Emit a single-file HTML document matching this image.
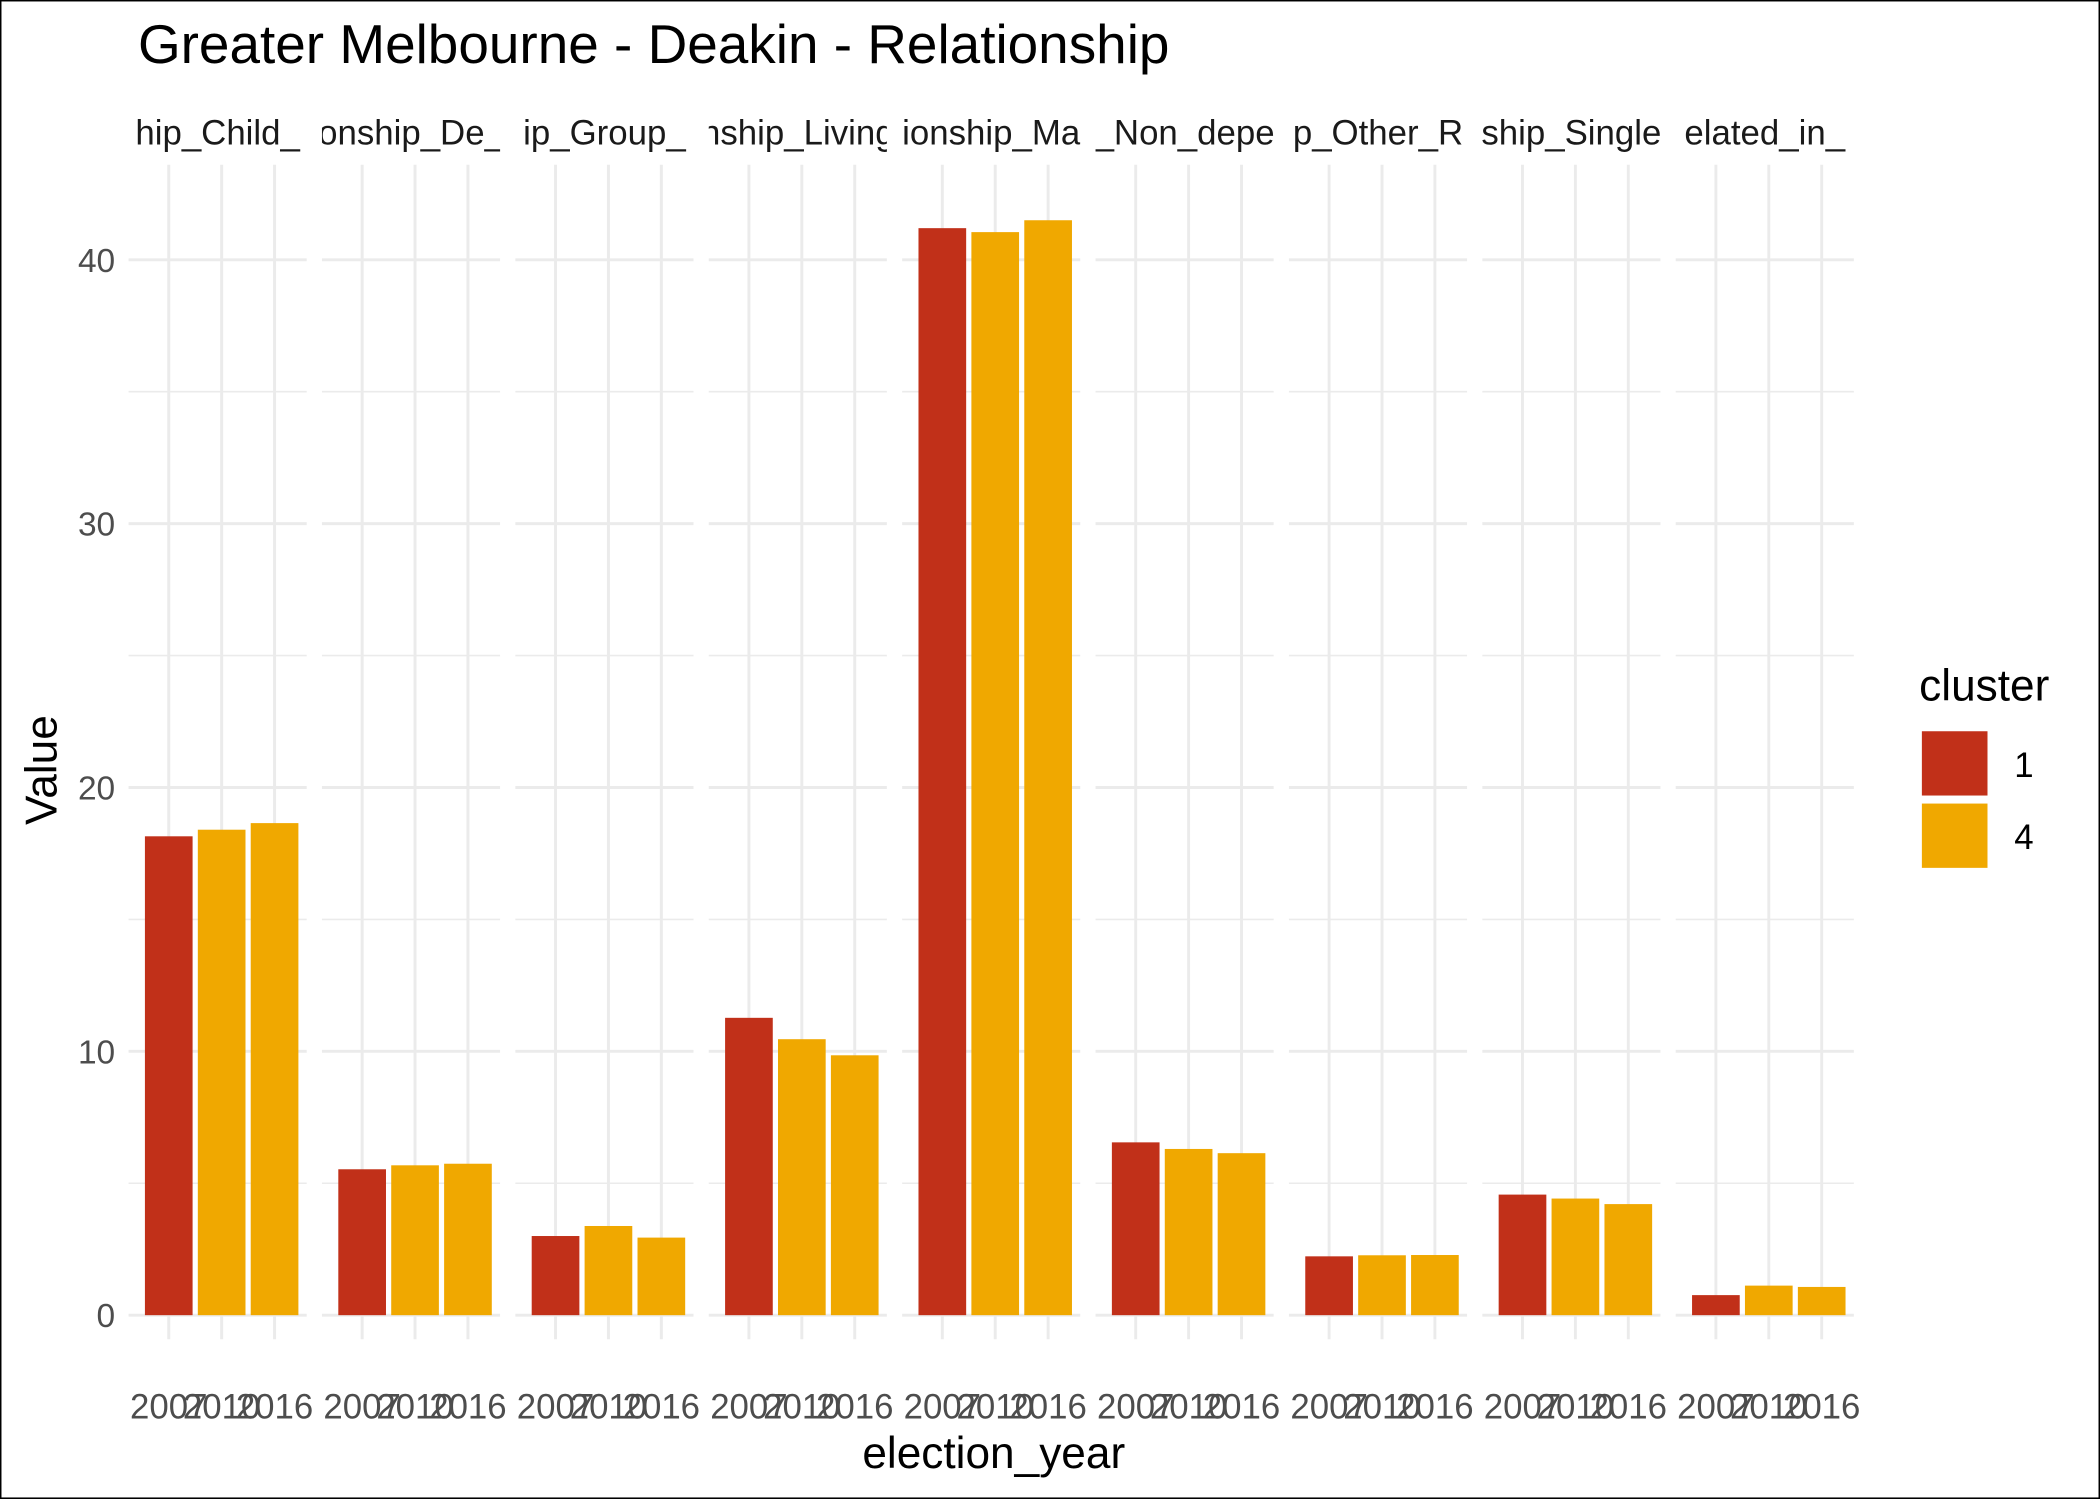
<!DOCTYPE html>
<html><head><meta charset="utf-8"><style>
html,body{margin:0;padding:0;background:#fff}
svg{display:block;font-family:"Liberation Sans",Arial,sans-serif}
</style></head><body>
<svg id="chart" width="2100" height="1499" viewBox="0 0 1568 1119.26" xmlns="http://www.w3.org/2000/svg">
<rect x="0.5" y="0.5" width="1567" height="1118.2" fill="#fff" stroke="#000" stroke-width="1.2"/>
<text x="103" y="47" font-size="41" fill="#000">Greater Melbourne - Deakin - Relationship</text>
<g id="panels"></g>
<text transform="translate(42,575) rotate(-90)" text-anchor="middle" font-size="33" fill="#000">Value</text>
<text x="742" y="1096" text-anchor="middle" font-size="33" fill="#000">election_year</text>
<g>
<text x="1433" y="523" font-size="33" fill="#000">cluster</text>
<rect x="1435" y="546" width="49" height="48" fill="#C13019"/>
<rect x="1435" y="600" width="49" height="48" fill="#F0A800"/>
<text x="1504" y="580" font-size="26" fill="#000">1</text>
<text x="1504" y="634" font-size="26" fill="#000">4</text>
</g>
</svg>
<script>
const categories = ["hip_Child_","onship_De_","ip_Group_","nship_Living","ionship_Ma","_Non_depe","p_Other_R","ship_Single","elated_in_"];
const years = ["2007","2010","2016"];
const clusters = ["1","4","4"];
const values = [
 [18.15,18.4,18.65],
 [5.53,5.68,5.74],
 [3.0,3.38,2.94],
 [11.27,10.46,9.85],
 [41.2,41.05,41.5],
 [6.55,6.3,6.14],
 [2.23,2.27,2.28],
 [4.57,4.42,4.21],
 [0.76,1.12,1.07]
];
const yTicks = [0,10,20,30,40];
const yMinor = [5,15,25,35];

const NS="http://www.w3.org/2000/svg";
const g=document.getElementById('panels');
const y0=982, pxPerUnit=19.7, panelTop=123, panelBottom=1000;
const panelLeft0=96, panelStep=144.4, panelW=133;
const yScale=v=>y0-v*pxPerUnit;
const xScale=(p,i)=>panelLeft0+p*panelStep+30+i*39.5;
const color=c=>c==="1"?"#C13019":"#F0A800";
function mk(tag,attrs){const e=document.createElementNS(NS,tag);for(const k in attrs)e.setAttribute(k,attrs[k]);return e;}

const defs=mk('defs',{});g.appendChild(defs);
yTicks.forEach(t=>{
  const tx=mk('text',{x:86,y:yScale(t)+9,'text-anchor':'end','font-size':25,fill:'#4d4d4d'});
  
  
  tx.textContent=t;g.appendChild(tx);
});
categories.forEach((cat,p)=>{
  const left=panelLeft0+p*panelStep;
  const pg=mk('g',{});
  
  
  g.appendChild(pg);
  yMinor.forEach(t=>{
    const l=mk('line',{x1:left,x2:left+panelW,y1:yScale(t),y2:yScale(t),stroke:'#ebebeb','stroke-width':1.2});
    
    
    pg.appendChild(l);
  });
  yTicks.forEach(t=>{
    const l=mk('line',{x1:left,x2:left+panelW,y1:yScale(t),y2:yScale(t),stroke:'#ebebeb','stroke-width':2.2});
    
    
    pg.appendChild(l);
  });
  years.forEach((yr,i)=>{
    const x=xScale(p,i);
    const l=mk('line',{x1:x,x2:x,y1:panelTop,y2:panelBottom,stroke:'#ebebeb','stroke-width':2.2});
    
    
    pg.appendChild(l);
  });
  years.forEach((yr,i)=>{
    const x=xScale(p,i), v=values[p][i];
    const r=mk('rect',{x:x-17.8,y:yScale(v),width:35.6,height:v*pxPerUnit,fill:color(clusters[i])});
    
    
    pg.appendChild(r);
    const tx=mk('text',{x:x,y:1059,'text-anchor':'middle','font-size':26,fill:'#4d4d4d'});
    
    
    tx.textContent=yr;pg.appendChild(tx);
  });
  const cp=mk('clipPath',{id:'clip'+p});
  cp.appendChild(mk('rect',{x:left,y:70,width:panelW,height:45}));
  defs.appendChild(cp);
  const st=mk('text',{x:left+panelW/2,y:108,'text-anchor':'middle','font-size':26,fill:'#1a1a1a','clip-path':'url(#clip'+p+')'});
  
  
  st.textContent=cat;pg.appendChild(st);
});
</script>
</body></html>
